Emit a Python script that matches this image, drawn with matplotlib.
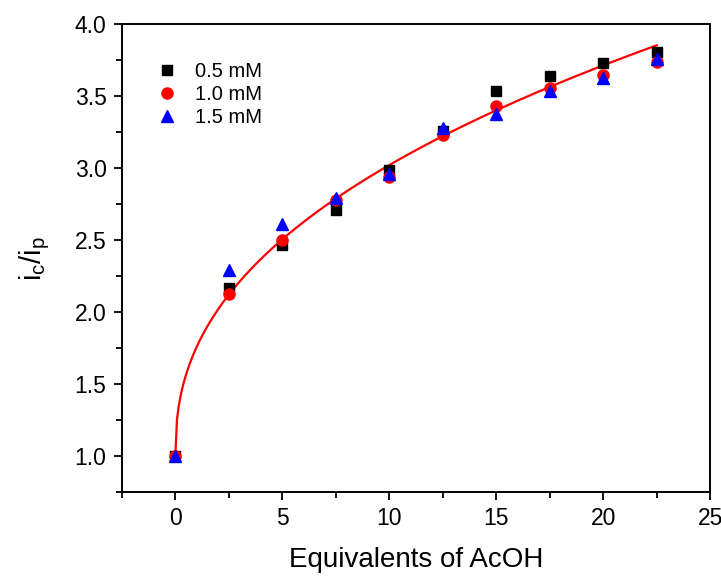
import numpy as np
import matplotlib
matplotlib.use('Agg')
import matplotlib.pyplot as plt
from matplotlib.ticker import MultipleLocator

plt.rcParams['font.family'] = ['Liberation Sans', 'DejaVu Sans']

# equivalents of AcOH added
equiv = [0, 2.5, 5, 7.5, 10, 12.5, 15, 17.5, 20, 22.5]

# ic/ip ratios for each catalyst concentration
ratio_05 = [1.00, 2.17, 2.47, 2.71, 2.99, 3.26, 3.54, 3.64, 3.73, 3.81]
ratio_10 = [1.00, 2.13, 2.50, 2.78, 2.94, 3.23, 3.43, 3.56, 3.65, 3.74]
ratio_15 = [1.00, 2.29, 2.61, 2.79, 2.96, 3.28, 3.38, 3.54, 3.63, 3.76]

# fitted curve  y = 1 + b*x^c  (parameters)
fit_b = 0.76
fit_c = 0.425
xfit = np.linspace(0, max(equiv), 300)
yfit = 1 + fit_b * xfit ** fit_c

fig = plt.figure(figsize=(7.21, 5.79), dpi=100)
ax = fig.add_axes([0.169, 0.150, 0.816, 0.808])

ax.plot(xfit, yfit, color='red', lw=1.6, zorder=2)
ax.plot(equiv, ratio_05, 's', color='black', ms=7.5, ls='none', label='0.5 mM', zorder=3)
ax.plot(equiv, ratio_10, 'o', color='red', ms=8, ls='none', label='1.0 mM', zorder=4)
ax.plot(equiv, ratio_15, '^', color='blue', ms=9, ls='none', label='1.5 mM', zorder=5)

ax.set_xlim(-2.5, 25)
ax.set_ylim(0.75, 4.0)
ax.xaxis.set_major_locator(MultipleLocator(5))
ax.xaxis.set_minor_locator(MultipleLocator(2.5))
ax.yaxis.set_major_locator(MultipleLocator(0.5))
ax.yaxis.set_minor_locator(MultipleLocator(0.25))
ax.tick_params(which='both', direction='out', top=False, right=False, width=1.3, labelsize=16.5)
ax.tick_params(which='major', length=6, pad=5)
ax.tick_params(which='minor', length=4)
for s in ax.spines.values():
    s.set_linewidth(1.4)

ax.set_xlabel('Equivalents of AcOH', fontsize=20, labelpad=12)
ax.set_ylabel(r'$\mathregular{i_c/i_p}$', fontsize=21, labelpad=16)

ax.legend(loc='upper left', frameon=False, fontsize=14.5, bbox_to_anchor=(0.025, 0.958),
          handletextpad=0.8, labelspacing=0.2, handlelength=1.2)

fig.savefig('out.png', dpi=100)
